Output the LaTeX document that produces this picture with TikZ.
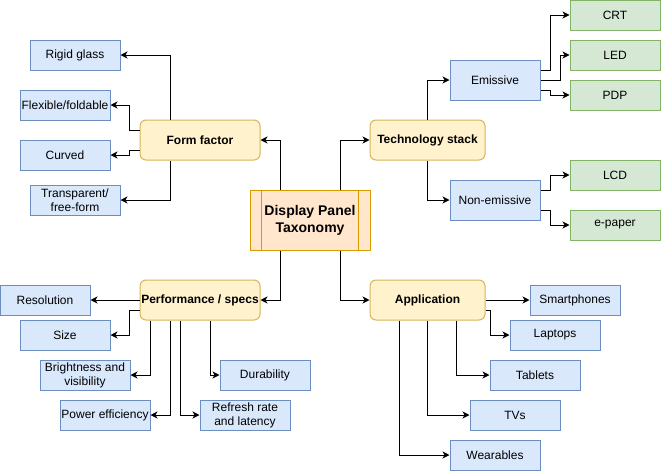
\documentclass[tikz,border=0pt]{standalone}
\usepackage{fontspec}
\setmainfont{Liberation Sans}
\usetikzlibrary{arrows.meta,calc}
\definecolor{bfill}{HTML}{DAE8FC}\definecolor{bdraw}{HTML}{6C8EBF}
\definecolor{gfill}{HTML}{D5E8D4}\definecolor{gdraw}{HTML}{82B366}
\definecolor{yfill}{HTML}{FFF2CC}\definecolor{ydraw}{HTML}{D6B656}
\definecolor{ofill}{HTML}{FFE6CC}\definecolor{odraw}{HTML}{D79B00}
\tikzset{
  base/.style={draw, line width=1pt, inner sep=0pt, align=center, font=\fontsize{12}{14}\selectfont, text=black},
  bluebox/.style={base, fill=bfill, draw=bdraw, minimum width=90pt, minimum height=30pt},
  greenbox/.style={base, fill=gfill, draw=gdraw, minimum width=90pt, minimum height=30pt},
  catbox/.style={base, fill=yfill, draw=ydraw, rounded corners=6pt, minimum height=40pt, font=\fontsize{12}{14}\selectfont\bfseries},
  rootbox/.style={base, fill=ofill, draw=odraw, minimum width=120pt, minimum height=60pt, font=\fontsize{14}{17}\selectfont\bfseries},
  arr/.style={draw=black, line width=1pt, -{Stealth[length=7pt,width=7pt,inset=2pt]}},
}
\begin{document}
\begin{tikzpicture}[x=1pt,y=-1pt]
\useasboundingbox (0,0) rectangle (661,472);
% root
\node[rootbox] (dp) at (310,220) {Display Panel\\Taxonomy};
\draw[odraw, line width=1pt] ([xshift=12pt]dp.north west) -- ([xshift=12pt]dp.south west)
  ([xshift=-12pt]dp.north east) -- ([xshift=-12pt]dp.south east);
% categories
\node[catbox, minimum width=120pt] (ff) at (200,140) {Form factor};
\node[catbox, minimum width=115pt] (ts) at (427.5,140) {Technology stack};
\node[catbox, minimum width=120pt] (pf) at (200,300) {Performance / specs};
\node[catbox, minimum width=115pt] (ap) at (427.5,300) {Application};
% form factor
\node[bluebox] (rg) at (75,55) {Rigid glass};
\node[bluebox] (fl) at (65,105) {Flexible/foldable};
\node[bluebox] (cv) at (65,155) {Curved};
\node[bluebox] (tr) at (75,200) {Transparent/\\free-form};
% technology
\node[bluebox, minimum height=40pt] (em) at (495,80) {Emissive};
\node[bluebox, minimum height=40pt] (ne) at (495,200) {Non-emissive};
\node[greenbox] (crt) at (615,15) {CRT};
\node[greenbox] (led) at (615,55) {LED};
\node[greenbox] (pdp) at (615,95) {PDP};
\node[greenbox] (lcd) at (615,175) {LCD};
\node[greenbox] (ep) at (615,225) {e-paper};
% performance
\node[bluebox] (res) at (45,300) {Resolution};
\node[bluebox] (sz) at (65,335) {Size};
\node[bluebox] (br) at (85,375) {Brightness and\\visibility};
\node[bluebox] (pw) at (105,415) {Power efficiency};
\node[bluebox] (du) at (265,375) {Durability};
\node[bluebox] (rr) at (245,415) {Refresh rate\\and latency};
% application
\node[bluebox] (sp) at (575,300) {Smartphones};
\node[bluebox] (lp) at (555,335) {Laptops};
\node[bluebox] (tb) at (535,375) {Tablets};
\node[bluebox] (tv) at (515,415) {TVs};
\node[bluebox] (wr) at (495,455) {Wearables};
% root connectors
\draw[arr] ([xshift=-30pt]dp.north) |- (ff.east);
\draw[arr] ([xshift=30pt]dp.north) |- (ts.west);
\draw[arr] ([xshift=-30pt]dp.south) |- (pf.east);
\draw[arr] ([xshift=30pt]dp.south) |- (ap.west);
% form factor connectors
\draw[arr] ([xshift=-30pt]ff.north) |- (rg.east);
\draw[arr] ([yshift=10pt]ff.west) -- ++(-10,0) |- (fl.east);
\draw[arr] ([yshift=-10pt]ff.west) -- ++(-10,0) |- (cv.east);
\draw[arr] ([xshift=-30pt]ff.south) |- (tr.east);
% technology connectors
\draw[arr] (ts.north) |- (em.west);
\draw[arr] (ts.south) |- (ne.west);
\draw[arr] ([yshift=10pt]em.east) -- ++(10,0) |- (crt.west);
\draw[arr] (em.east) -- ++(20,0) |- (led.west);
\draw[arr] ([yshift=-10pt]em.east) -- ++(10,0) |- (pdp.west);
\draw[arr] ([yshift=10pt]ne.east) -- ++(10,0) |- (lcd.west);
\draw[arr] ([yshift=-10pt]ne.east) -- ++(10,0) |- (ep.west);
% performance connectors
\draw[arr] (pf.west) -- (res.east);
\draw[arr] ([yshift=-10pt]pf.west) -- ++(-10,0) |- (sz.east);
\draw[arr] ([xshift=-50pt]pf.south) |- (br.east);
\draw[arr] ([xshift=-30pt]pf.south) |- (pw.east);
\draw[arr] ([xshift=-20pt]pf.south) |- (rr.west);
\draw[arr] ([xshift=10pt]pf.south) |- (du.west);
% application connectors
\draw[arr] (ap.east) -- (sp.west);
\draw[arr] ([yshift=-10pt]ap.east) -- ++(5,0) |- (lp.west);
\draw[arr] ([xshift=28.5pt]ap.south) |- (tb.west);
\draw[arr] (ap.south) |- (tv.west);
\draw[arr] ([xshift=-28.5pt]ap.south) |- (wr.west);
\end{tikzpicture}
\end{document}
